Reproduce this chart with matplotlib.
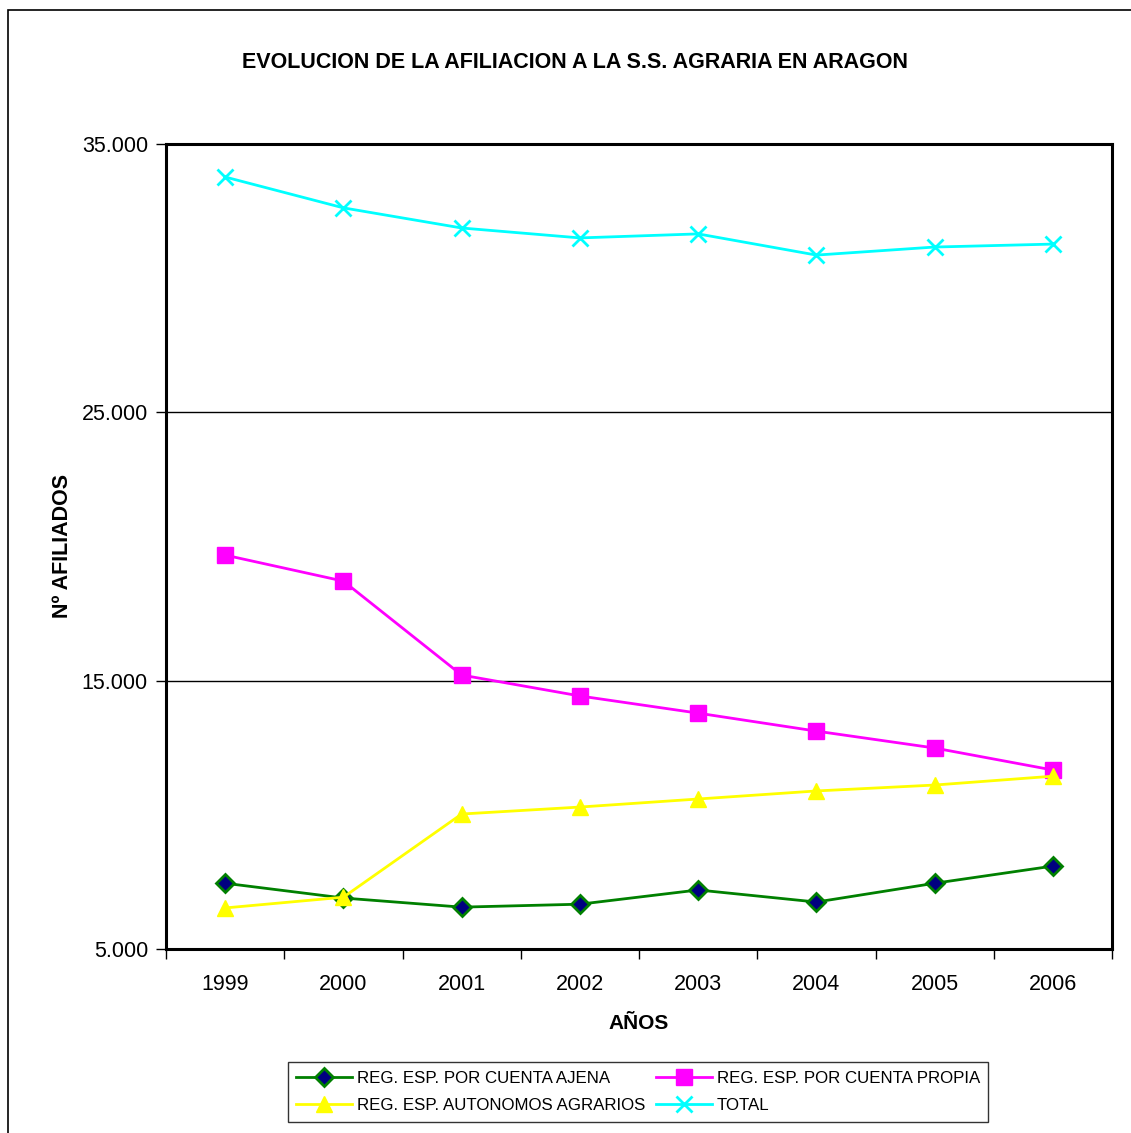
import numpy as np
import matplotlib.pyplot as plt
import matplotlib.patches as mpatches
from matplotlib.ticker import FuncFormatter, FixedLocator, NullFormatter

plt.rcParams['font.family'] = ['Liberation Sans', 'DejaVu Sans']

years = ['1999', '2000', '2001', '2002', '2003', '2004', '2005', '2006']

ajena = [7450, 6900, 6560, 6670, 7200, 6750, 7450, 8090]
propia = [19680, 18710, 15210, 14430, 13790, 13120, 12490, 11670]
autonomos = [6530, 6930, 10030, 10290, 10590, 10890, 11110, 11440]
total = [33770, 32620, 31870, 31500, 31650, 30860, 31160, 31270]

labels = ['REG. ESP. POR CUENTA AJENA', 'REG. ESP. POR CUENTA PROPIA',
          'REG. ESP. AUTONOMOS AGRARIOS', 'TOTAL']

fig = plt.figure(figsize=(11.31, 11.33), dpi=100)

# outer chart frame
fig.patches.append(mpatches.Rectangle(
    (8 / 1131, -0.05), 1.2, 1 - 10 / 1133 + 0.05,
    transform=fig.transFigure, fill=False, edgecolor='black', linewidth=1.2))

ax = fig.add_axes([166 / 1131, 184 / 1133, 946 / 1131, 805 / 1133])

x = np.arange(len(years))

l1, = ax.plot(x, ajena, color='#008000', linewidth=2, marker='D', markersize=9,
              markerfacecolor='#000080', markeredgecolor='#008000',
              markeredgewidth=2, label=labels[0])
l2, = ax.plot(x, propia, color='#FF00FF', linewidth=2, marker='s', markersize=11,
              markerfacecolor='#FF00FF', markeredgecolor='#FF00FF', label=labels[1])
l3, = ax.plot(x, autonomos, color='#FFFF00', linewidth=2, marker='^', markersize=12,
              markerfacecolor='#FFFF00', markeredgecolor='#FFFF00', label=labels[2])
l4, = ax.plot(x, total, color='#00FFFF', linewidth=2, marker='x', markersize=11,
              markeredgewidth=2, label=labels[3])

ax.set_xlim(-0.5, len(years) - 0.5)
ax.set_ylim(5000, 35000)

ax.set_xticks(x)
ax.set_xticklabels(years, fontsize=15.5)
ax.tick_params(axis='x', which='major', length=0, pad=18)
ax.xaxis.set_minor_locator(FixedLocator(np.arange(-0.5, len(years), 1)))
ax.xaxis.set_minor_formatter(NullFormatter())
ax.tick_params(axis='x', which='minor', length=7, width=1, direction='out')

ax.set_yticks([5000, 15000, 25000, 35000])
ax.yaxis.set_major_formatter(FuncFormatter(lambda v, p: f"{int(v):,}".replace(',', '.')))
ax.tick_params(axis='y', labelsize=15.5, length=7, width=1, direction='out', pad=6)

ax.grid(axis='y', color='black', linewidth=1)
ax.set_axisbelow(True)

for s in ax.spines.values():
    s.set_linewidth(2.2)

ax.set_xlabel('AÑOS', fontsize=15, fontweight='bold', labelpad=14)
ax.set_ylabel('Nº AFILIADOS', fontsize=15.5, fontweight='bold', labelpad=6)

fig.text(575 / 1131, 1 - 62 / 1133, 'EVOLUCION DE LA AFILIACION A LA S.S. AGRARIA EN ARAGON',
         ha='center', va='center', fontsize=15.5, fontweight='bold')

# column-major order so rows read AJENA/PROPIA, AUTONOMOS/TOTAL
leg = fig.legend([l1, l3, l2, l4], [labels[0], labels[2], labels[1], labels[3]],
                 loc='center', bbox_to_anchor=(638 / 1131, 1 - 1092 / 1133), ncol=2,
                 fontsize=12.2, frameon=True, fancybox=False, edgecolor='black',
                 handlelength=3.3, handletextpad=0.3, columnspacing=0.6,
                 borderpad=0.5, labelspacing=0.75)
leg.get_frame().set_linewidth(1)

fig.savefig('out.png', dpi=100)
